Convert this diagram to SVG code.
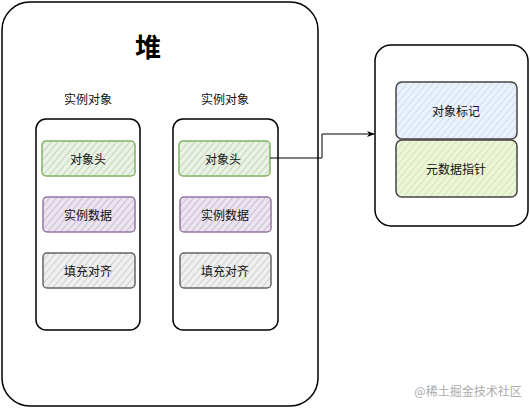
<svg xmlns="http://www.w3.org/2000/svg" width="530" height="408" viewBox="0 0 530 408">
<style>
.box{fill:none;stroke:#000;stroke-width:1.5}
.t{font-family:"Noto Sans CJK SC",sans-serif;font-size:12px;fill:#111;text-anchor:middle;dominant-baseline:central}
.g{stroke:#82b366;stroke-width:1.5;fill:url(#hg)}
.p{stroke:#9673a6;stroke-width:1.5;fill:url(#hp)}
.k{stroke:#666;stroke-width:1.5;fill:url(#hk)}
.b{stroke:#444;stroke-width:1.5;fill:url(#hb)}
.y{stroke:#444;stroke-width:1.5;fill:url(#hy)}
</style>
<defs>
<pattern id="hg" width="5" height="5" patternUnits="userSpaceOnUse" patternTransform="rotate(40)"><rect width="5" height="5" fill="#eaf2e6"/><line x1="0" y1="0" x2="0" y2="5" stroke="#a9c49b" stroke-width="1.2"/></pattern>
<pattern id="hp" width="5" height="5" patternUnits="userSpaceOnUse" patternTransform="rotate(40)"><rect width="5" height="5" fill="#ece5f0"/><line x1="0" y1="0" x2="0" y2="5" stroke="#b5a1c1" stroke-width="1.2"/></pattern>
<pattern id="hk" width="5" height="5" patternUnits="userSpaceOnUse" patternTransform="rotate(40)"><rect width="5" height="5" fill="#efefef"/><line x1="0" y1="0" x2="0" y2="5" stroke="#b9b9b9" stroke-width="1.2"/></pattern>
<pattern id="hb" width="5" height="5" patternUnits="userSpaceOnUse" patternTransform="rotate(40)"><rect width="5" height="5" fill="#eaf1fa"/><line x1="0" y1="0" x2="0" y2="5" stroke="#bcd1ea" stroke-width="1.2"/></pattern>
<pattern id="hy" width="5" height="5" patternUnits="userSpaceOnUse" patternTransform="rotate(40)"><rect width="5" height="5" fill="#ecf5d8"/><line x1="0" y1="0" x2="0" y2="5" stroke="#c6de94" stroke-width="1.2"/></pattern>
<marker id="arr" viewBox="0 0 10 10" refX="9" refY="5" markerWidth="8" markerHeight="8" orient="auto"><path d="M0,1 L10,5 L0,9 L3,5 Z" fill="#000"/></marker>
</defs>
<g id="heap">
<rect class="box" x="2" y="2" width="316" height="404" rx="28"/>
<text x="148" y="45" font-family="Noto Sans CJK SC,sans-serif" font-size="26" font-weight="bold" text-anchor="middle" dominant-baseline="central">堆</text>
</g>
<g id="obj1">
<text class="t" x="88" y="98">实例对象</text>
<rect class="box" x="36" y="119" width="104" height="211" rx="10"/>
</g>
<g id="obj1-header"><rect class="g" x="42" y="141" width="93" height="35" rx="4"/><text class="t" x="88" y="158">对象头</text></g>
<g id="obj1-data"><rect class="p" x="43" y="197" width="92" height="35" rx="4"/><text class="t" x="88" y="214">实例数据</text></g>
<g id="obj1-pad"><rect class="k" x="43" y="253" width="92" height="35" rx="4"/><text class="t" x="88" y="270">填充对齐</text></g>
<g id="obj2">
<text class="t" x="225" y="98">实例对象</text>
<rect class="box" x="173" y="119" width="105" height="211" rx="10"/>
</g>
<g id="obj2-header"><rect class="g" x="179" y="141" width="91" height="35" rx="4"/><text class="t" x="223" y="158">对象头</text></g>
<g id="obj2-data"><rect class="p" x="180" y="197" width="91" height="35" rx="4"/><text class="t" x="225" y="214">实例数据</text></g>
<g id="obj2-pad"><rect class="k" x="180" y="253" width="91" height="35" rx="4"/><text class="t" x="225" y="270">填充对齐</text></g>
<g id="header">
<rect class="box" x="375" y="45" width="153" height="181" rx="16"/>
</g>
<g id="mark"><rect class="b" x="396" y="82" width="121" height="57" rx="6"/><text class="t" x="456" y="110">对象标记</text></g>
<g id="klass"><rect class="y" x="396" y="140" width="121" height="57" rx="6"/><text class="t" x="456" y="168">元数据指针</text></g>
<g id="connectors">
<path d="M270,158 H322 V134 H374" fill="none" stroke="#000" stroke-width="1" marker-end="url(#arr)"/>
</g>
<text x="468" y="390" font-family="Noto Sans CJK SC,sans-serif" font-size="12" fill="#aaa" text-anchor="middle" dominant-baseline="central">@稀土掘金技术社区</text>
</svg>
